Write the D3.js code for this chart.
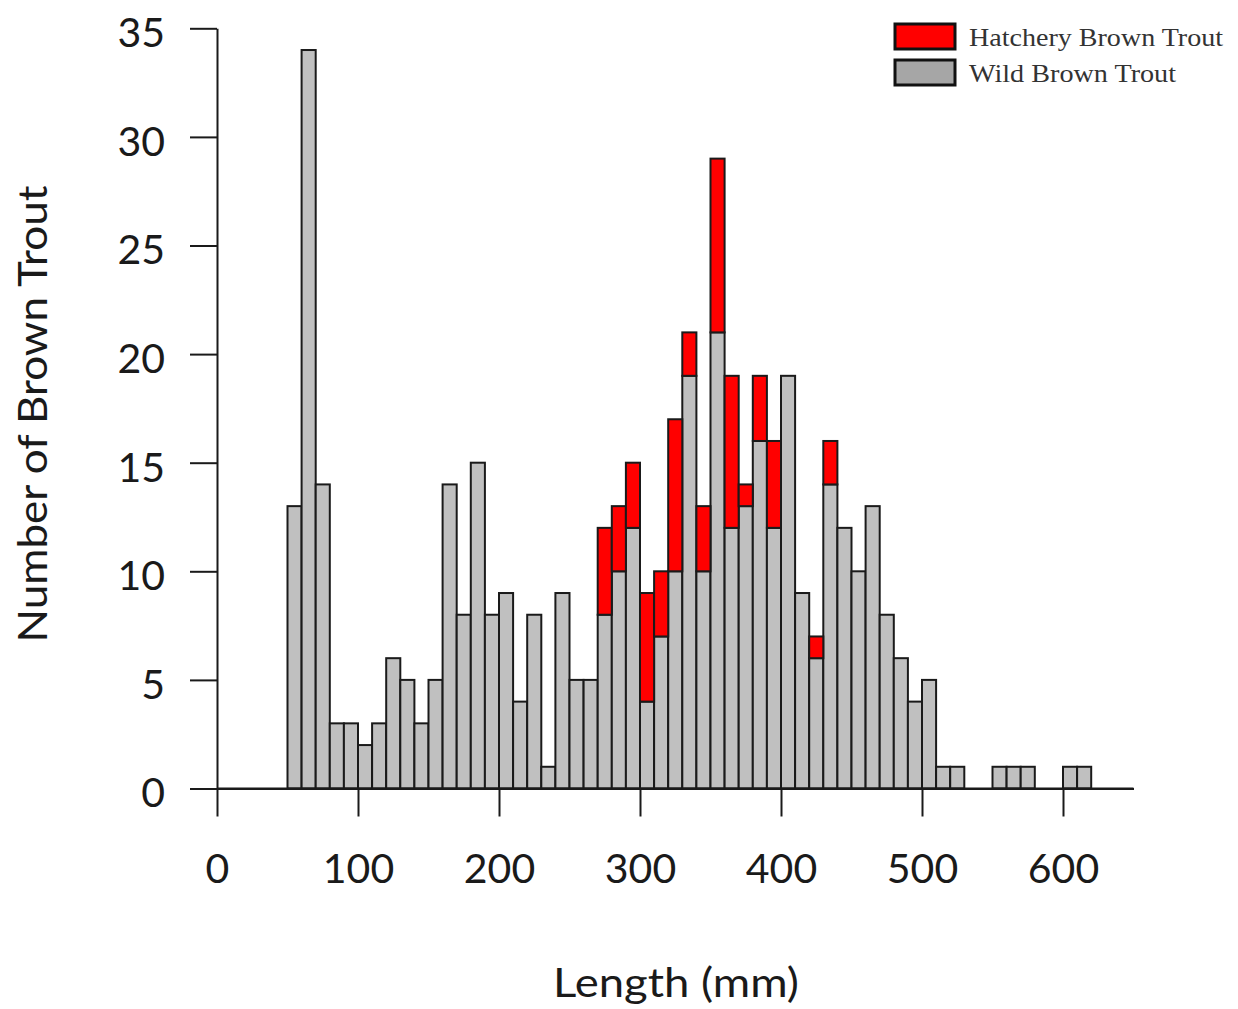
<!DOCTYPE html>
<html>
<head>
<meta charset="utf-8">
<script src="https://cdn.jsdelivr.net/npm/d3@7"></script>
<style>
  body { margin: 0; background: #fff; }
  svg { display: block; }
</style>
</head>
<body>
<div id="chart"></div>
<script>
// -------------------------------------------------------------------------
// Data (10 mm length bins, lower edge in mm)
const binStarts = [50, 60, 70, 80, 90, 100, 110, 120, 130, 140, 150, 160, 170, 180, 190,
  200, 210, 220, 230, 240, 250, 260, 270, 280, 290, 300, 310, 320, 330, 340, 350, 360,
  370, 380, 390, 400, 410, 420, 430, 440, 450, 460, 470, 480, 490, 500, 510, 520, 530,
  540, 550, 560, 570, 580, 590, 600, 610];
const binWidth = 10;

const wildCounts = [13, 34, 14, 3, 3, 2, 3, 6, 5, 3, 5, 14, 8, 15, 8,
  9, 4, 8, 1, 9, 5, 5, 8, 10, 12, 4, 7, 10, 19, 10, 21, 12,
  13, 16, 12, 19, 9, 6, 14, 12, 10, 13, 8, 6, 4, 5, 1, 1, 0,
  0, 1, 1, 1, 0, 0, 1, 1];

const hatcheryCounts = [0, 0, 0, 0, 0, 0, 0, 0, 0, 0, 0, 0, 0, 0, 0,
  0, 0, 0, 0, 0, 0, 0, 4, 3, 3, 5, 3, 7, 2, 3, 8, 7,
  1, 3, 4, 0, 0, 1, 2, 0, 0, 0, 0, 0, 0, 0, 0, 0, 0,
  0, 0, 0, 0, 0, 0, 0, 0];

const xTicks = [0, 100, 200, 300, 400, 500, 600];
const yTicks = [0, 5, 10, 15, 20, 25, 30, 35];

const legendLabels = ['Hatchery Brown Trout', 'Wild Brown Trout'];
const legendColors = ['#ff0000', '#a6a6a6'];

// -------------------------------------------------------------------------
// Layout
const width = 1238;
const height = 1009;
const wildColor = '#c0c0c0';
const hatcheryColor = '#ff0000';
const inkColor = '#1a1a1a';
const labelFont = 'Lato, "Open Sans", sans-serif';

const svg = d3.select('#chart')
  .append('svg')
  .attr('width', width)
  .attr('height', height);

const x = d3.scaleLinear().domain([0, 650]).range([217, 1133.5]);
const y = d3.scaleLinear().domain([0, 35]).range([788.5, 28.3]);

const bins = binStarts.map((start, i) => ({
  start: start,
  wild: wildCounts[i],
  hatchery: hatcheryCounts[i]
}));

/**
 * Bars: wild at the bottom, hatchery stacked on top
 */
const bars = svg.append('g').attr('class', 'bars');

bars.selectAll('.wild-bar')
  .data(bins.filter(d => d.wild > 0))
  .enter()
  .append('rect')
  .attr('class', 'wild-bar')
  .attr('x', d => x(d.start))
  .attr('width', d => x(d.start + binWidth) - x(d.start))
  .attr('y', d => y(d.wild))
  .attr('height', d => y(0) - y(d.wild))
  .attr('fill', wildColor)
  .attr('stroke', inkColor)
  .attr('stroke-width', 2);

bars.selectAll('.hatchery-bar')
  .data(bins.filter(d => d.hatchery > 0))
  .enter()
  .append('rect')
  .attr('class', 'hatchery-bar')
  .attr('x', d => x(d.start))
  .attr('width', d => x(d.start + binWidth) - x(d.start))
  .attr('y', d => y(d.wild + d.hatchery))
  .attr('height', d => y(d.wild) - y(d.wild + d.hatchery))
  .attr('fill', hatcheryColor)
  .attr('stroke', inkColor)
  .attr('stroke-width', 2);

/**
 * Axes
 */
const xAxis = svg.append('g')
  .attr('transform', `translate(0,${y(0)})`)
  .call(d3.axisBottom(x).tickValues(xTicks).tickSize(28).tickSizeOuter(0));

xAxis.select('.domain').attr('stroke', inkColor).attr('stroke-width', 2);
xAxis.selectAll('.tick line').attr('stroke', inkColor).attr('stroke-width', 2);
xAxis.selectAll('.tick text')
  .attr('y', 94)
  .attr('dy', 0)
  .attr('fill', inkColor)
  .style('font-family', labelFont)
  .style('font-size', '41px');

const yAxis = svg.append('g')
  .attr('transform', `translate(${x(0)},0)`)
  .call(d3.axisLeft(y).tickValues(yTicks).tickSize(27).tickSizeOuter(0));

yAxis.select('.domain').attr('stroke', inkColor).attr('stroke-width', 2);
yAxis.selectAll('.tick line').attr('stroke', inkColor).attr('stroke-width', 2);
yAxis.selectAll('.tick text')
  .attr('x', -52)
  .attr('dy', '0.45em')
  .attr('fill', inkColor)
  .style('font-family', labelFont)
  .style('font-size', '41px');

// the baseline runs past the last tick to the end of the scale
svg.append('line')
  .attr('x1', x(0))
  .attr('x2', x(650))
  .attr('y1', y(0))
  .attr('y2', y(0))
  .attr('stroke', inkColor)
  .attr('stroke-width', 2);

/**
 * Axis titles
 */
svg.append('text')
  .attr('x', 676)
  .attr('y', 997)
  .attr('text-anchor', 'middle')
  .attr('textLength', 246)
  .attr('lengthAdjust', 'spacingAndGlyphs')
  .attr('fill', inkColor)
  .style('font-family', labelFont)
  .style('font-size', '40px')
  .text('Length (mm)');

svg.append('text')
  .attr('transform', 'translate(47,414) rotate(-90)')
  .attr('text-anchor', 'middle')
  .attr('textLength', 457)
  .attr('lengthAdjust', 'spacingAndGlyphs')
  .attr('fill', inkColor)
  .style('font-family', labelFont)
  .style('font-size', '41px')
  .text('Number of Brown Trout');

/**
 * Legend
 */
const legendWidths = [254, 207];
const legend = svg.append('g').attr('class', 'legend');
const legendRows = legend.selectAll('g')
  .data(legendLabels)
  .enter()
  .append('g')
  .attr('transform', (d, i) => `translate(895,${24 + i * 36})`);

legendRows.append('rect')
  .attr('width', 60)
  .attr('height', 25)
  .attr('fill', (d, i) => legendColors[i])
  .attr('stroke', '#111')
  .attr('stroke-width', 3);

legendRows.append('text')
  .attr('x', 74)
  .attr('y', 22)
  .attr('textLength', (d, i) => legendWidths[i])
  .attr('lengthAdjust', 'spacingAndGlyphs')
  .attr('fill', '#333')
  .style('font-family', '"Liberation Serif", "Times New Roman", serif')
  .style('font-size', '26px')
  .text(d => d);
</script>
</body>
</html>
